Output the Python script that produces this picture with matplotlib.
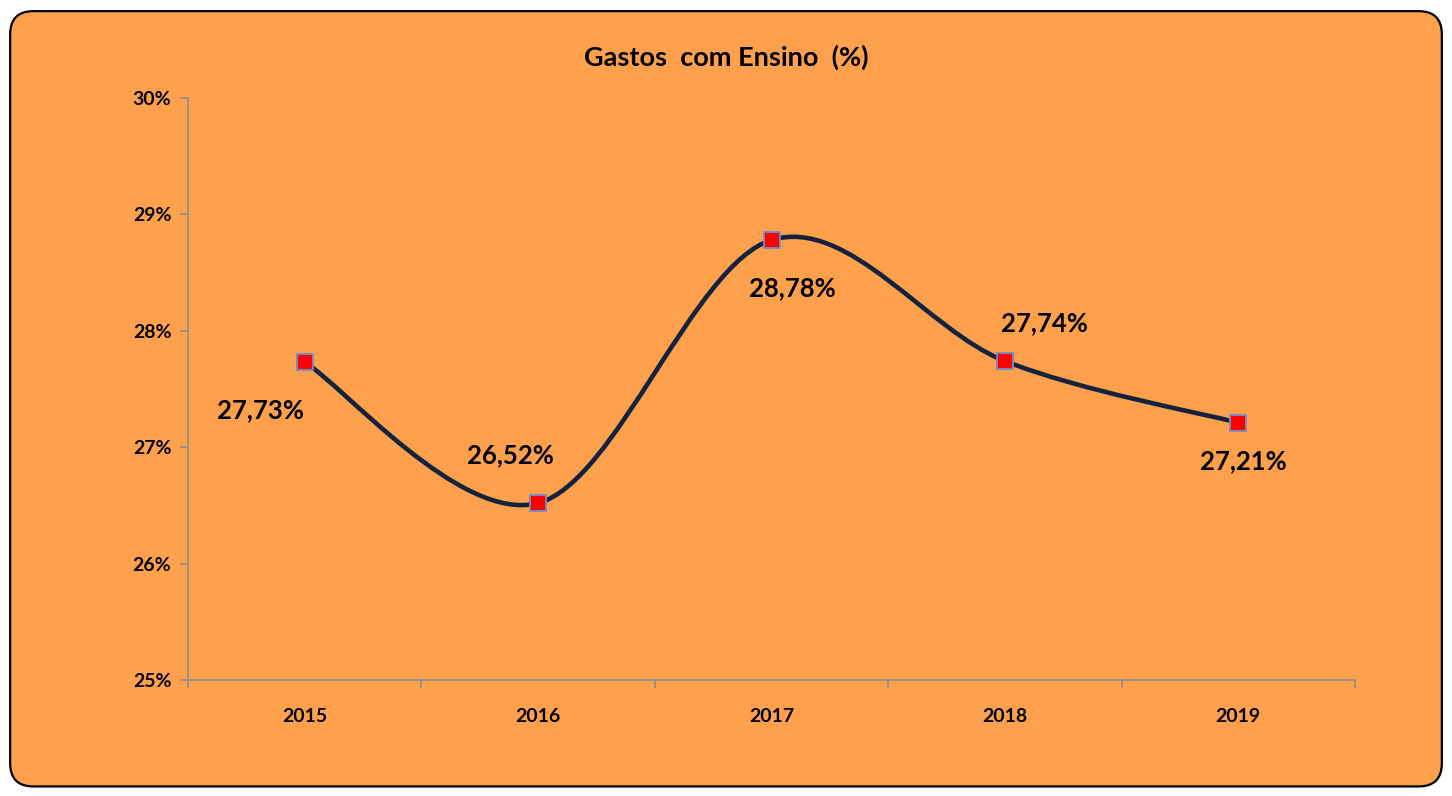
import matplotlib.pyplot as plt
from matplotlib.patches import FancyBboxPatch, PathPatch
from matplotlib.path import Path

years = ['2015', '2016', '2017', '2018', '2019']
gastos = [27.73, 26.52, 28.78, 27.74, 27.21]
rotulos = ['27,73%', '26,52%', '28,78%', '27,74%', '27,21%']
y_ticks = [25, 26, 27, 28, 29, 30]

plt.rcParams['font.family'] = ['Lato', 'DejaVu Sans']
plt.rcParams['font.weight'] = 'bold'

laranja = '#FFA04C'
cinza = '#8C8C8C'


def smooth_path(xs, ys):
    """Bezier path through the points, like Excel's smoothed line."""
    verts = [(xs[0], ys[0])]
    codes = [Path.MOVETO]
    n = len(xs)
    for i in range(n - 1):
        x0, y0 = xs[max(i - 1, 0)], ys[max(i - 1, 0)]
        x1, y1 = xs[i], ys[i]
        x2, y2 = xs[i + 1], ys[i + 1]
        x3, y3 = xs[min(i + 2, n - 1)], ys[min(i + 2, n - 1)]
        c1 = (x1 + (x2 - x0) / 6, y1 + (y2 - y0) / 6)
        c2 = (x2 - (x3 - x1) / 6, y2 - (y3 - y1) / 6)
        verts += [c1, c2, (x2, y2)]
        codes += [Path.CURVE4] * 3
    return Path(verts, codes)


fig = plt.figure(figsize=(14.52, 7.96), dpi=100)
fig.patch.set_facecolor('white')

caixa = FancyBboxPatch((0.007, 0.012), 0.986, 0.974,
                       boxstyle='round,pad=0,rounding_size=0.016',
                       transform=fig.transFigure, facecolor=laranja,
                       edgecolor='black', linewidth=1.6, mutation_aspect=1.82,
                       zorder=-10)
fig.patches.append(caixa)

ax = fig.add_axes([0.1295, 0.1457, 0.8037, 0.7312])
ax.set_facecolor('none')

xs = list(range(len(years)))
ax.add_patch(PathPatch(smooth_path(xs, gastos), facecolor='none',
                       edgecolor='#13233D', linewidth=3.3, zorder=2))
ax.plot(xs, gastos, linestyle='none', marker='s', markersize=11,
        markerfacecolor='#FF0000', markeredgecolor='#6F8FC8',
        markeredgewidth=1.3, zorder=3)

offsets = [(-0.19, -0.41), (-0.12, 0.41), (0.09, -0.41), (0.17, 0.33), (0.02, -0.33)]
for x, y, txt, (dx, dy) in zip(xs, gastos, rotulos, offsets):
    ax.text(x + dx, y + dy, txt, ha='center', va='center',
            fontsize=18.5, fontweight='bold', color='black')

ax.set_xlim(-0.5, len(years) - 0.5)
ax.set_ylim(25, 30)
ax.set_yticks(y_ticks)
ax.set_yticklabels([f'{v}%' for v in y_ticks])
ax.set_xticks(xs)
ax.set_xticklabels(years)
ax.set_xticks([i - 0.5 for i in range(len(years) + 1)], minor=True)
ax.tick_params(axis='x', which='major', length=0, pad=20, labelsize=14)
ax.tick_params(axis='x', which='minor', length=6, color=cinza, width=1.2,
               direction='out')
ax.tick_params(axis='y', length=6, color=cinza, width=1.2, labelsize=14, pad=6)
for lab in ax.get_xticklabels() + ax.get_yticklabels():
    lab.set_fontweight('bold')

for side in ['top', 'right']:
    ax.spines[side].set_visible(False)
for side in ['left', 'bottom']:
    ax.spines[side].set_color(cinza)
    ax.spines[side].set_linewidth(1.2)

fig.text(0.5, 0.928, 'Gastos  com Ensino  (%)', ha='center', va='center',
         fontsize=19.5, fontweight='bold')

fig.savefig('out.png', dpi=100, facecolor='white')
